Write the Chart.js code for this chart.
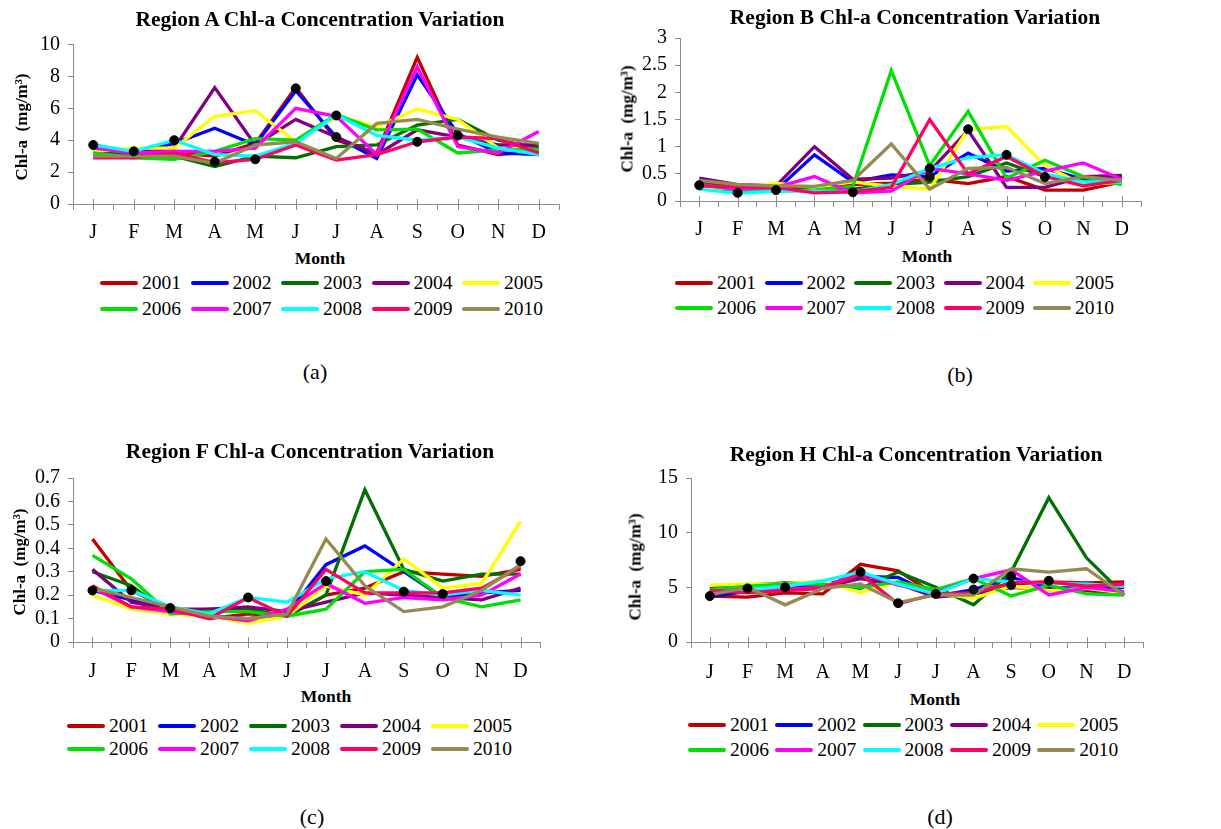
<!DOCTYPE html>
<html><head><meta charset="utf-8">
<script src="https://cdn.jsdelivr.net/npm/chart.js@4.4.0/dist/chart.umd.min.js"></script>
<style>
body{margin:0;background:#fff;width:1221px;height:829px;position:relative;overflow:hidden;font-family:'Liberation Serif','Times New Roman',serif;color:#000;}
.t{position:absolute;transform:translate(-50%,-50%);white-space:nowrap;line-height:1;}
canvas{position:absolute;}
.lg{position:absolute;display:flex;align-items:center;height:20px;font-size:19.5px;line-height:1;font-family:'Liberation Serif','Times New Roman',serif;}
.lg span.ln{display:inline-block;width:38px;height:4px;border-radius:2px;margin-right:4px;}
</style></head><body>
<script>
const months = ['J','F','M','A','M','J','J','A','S','O','N','D'];
const years = ['2001','2002','2003','2004','2005','2006','2007','2008','2009','2010'];
const colors = ['#C00000','#0000FF','#007000','#800080','#FFFF00','#00E000','#FF00FF','#00FFFF','#FF0066','#948A54'];

// Region A
const valuesA = [
  [3.0,3.1,3.2,3.0,3.8,7.3,4.0,3.2,9.2,3.7,3.1,3.3],
  [3.7,3.2,3.8,4.75,3.7,7.1,4.2,2.85,8.1,4.4,3.2,3.1],
  [3.3,3.0,3.0,2.35,3.0,2.9,3.6,3.7,4.95,5.3,4.0,3.5],
  [3.5,3.2,3.5,7.3,3.7,5.3,4.2,3.1,4.65,4.2,3.7,3.7],
  [3.3,3.5,3.5,5.5,5.85,3.9,5.5,4.85,5.95,5.3,3.5,3.4],
  [3.2,2.9,2.8,3.3,4.1,4.0,5.6,4.65,4.7,3.2,3.4,3.4],
  [3.5,3.2,3.3,3.3,3.5,6.0,5.5,3.1,8.6,3.6,3.2,4.55],
  [3.7,3.3,4.0,3.1,3.0,3.8,5.6,4.3,4.0,4.2,3.5,3.1],
  [2.9,2.9,3.2,2.6,2.8,3.7,2.75,3.1,3.9,4.2,4.1,3.2],
  [3.0,3.0,3.0,2.55,3.7,3.9,2.85,5.05,5.3,4.7,4.2,3.8]
];
const dotsA  = [3.7,3.3,4.0,2.65,2.8,7.25,5.55,null,3.9,4.3,null,null];
const dotsA2 = [null,null,null,null,null,null,4.2,null,null,null,null,null];
const ticksA = [0,2,4,6,8,10];

// Region B
const valuesB = [
  [0.28,0.27,0.26,0.20,0.30,0.33,0.40,0.32,0.45,0.20,0.20,0.35],
  [0.27,0.18,0.20,0.85,0.35,0.48,0.45,0.88,0.55,0.60,0.40,0.45],
  [0.35,0.25,0.22,0.20,0.22,0.30,0.35,0.45,0.70,0.45,0.40,0.33],
  [0.42,0.30,0.28,1.00,0.40,0.42,0.55,1.30,0.25,0.25,0.45,0.47],
  [0.25,0.22,0.33,0.25,0.35,0.27,0.22,1.32,1.37,0.65,0.30,0.35],
  [0.30,0.20,0.18,0.20,0.27,2.40,0.65,1.65,0.42,0.75,0.45,0.30],
  [0.30,0.22,0.25,0.45,0.15,0.18,0.60,0.50,0.38,0.55,0.70,0.40],
  [0.22,0.14,0.18,0.18,0.17,0.30,0.60,0.80,0.85,0.50,0.35,0.35],
  [0.28,0.26,0.25,0.15,0.17,0.25,1.50,0.50,0.82,0.45,0.28,0.38],
  [0.38,0.30,0.28,0.27,0.38,1.05,0.22,0.60,0.62,0.32,0.45,0.38]
];
const dotsB  = [0.29,0.15,0.20,null,0.16,null,0.60,1.32,0.85,0.44,null,null];
const dotsB2 = [null,null,null,null,null,null,0.45,null,null,null,null,null];
const ticksB = [0,0.5,1,1.5,2,2.5,3];

// Region F
const valuesC = [
  [0.44,0.22,0.14,0.10,0.12,0.11,0.20,0.23,0.30,0.29,0.28,0.31],
  [0.22,0.18,0.14,0.11,0.10,0.12,0.33,0.41,0.30,0.19,0.21,0.22],
  [0.30,0.24,0.12,0.14,0.14,0.11,0.20,0.65,0.31,0.26,0.29,0.29],
  [0.31,0.17,0.14,0.14,0.15,0.13,0.17,0.21,0.20,0.19,0.18,0.23],
  [0.20,0.14,0.12,0.11,0.08,0.11,0.24,0.20,0.355,0.23,0.25,0.515],
  [0.37,0.27,0.12,0.13,0.13,0.11,0.14,0.30,0.31,0.19,0.15,0.18],
  [0.23,0.15,0.13,0.11,0.09,0.14,0.25,0.165,0.19,0.18,0.20,0.29],
  [0.22,0.22,0.15,0.12,0.19,0.17,0.27,0.30,0.22,0.20,0.22,0.20],
  [0.24,0.15,0.14,0.10,0.19,0.11,0.31,0.21,0.21,0.21,0.23,0.32],
  [0.23,0.19,0.15,0.11,0.10,0.12,0.44,0.24,0.13,0.15,0.22,0.33]
];
const dotsC  = [0.22,0.22,0.145,null,0.19,null,0.26,null,0.215,0.205,null,0.345];
const dotsC2 = [null,null,null,null,null,null,null,null,null,null,null,null];
const ticksC = [0,0.1,0.2,0.3,0.4,0.5,0.6,0.7];

// Region H
const valuesD = [
  [4.2,4.1,4.5,4.4,7.1,6.5,4.3,4.5,5.3,5.5,5.4,5.5],
  [4.2,4.6,4.9,5.2,6.0,5.9,4.2,4.8,5.9,5.0,4.9,5.0],
  [4.9,5.2,5.4,5.3,4.9,6.4,5.0,3.4,6.4,13.2,7.7,4.3],
  [4.6,4.7,4.9,5.0,5.8,5.3,4.1,4.4,5.0,4.8,4.7,4.4],
  [5.2,5.3,5.3,5.6,4.5,5.5,4.5,4.0,5.1,4.7,4.9,4.5],
  [4.8,5.1,5.3,5.3,5.0,5.5,4.8,5.8,4.2,5.2,4.4,4.3],
  [4.6,4.8,4.8,5.0,6.3,5.2,4.5,5.8,6.6,4.3,5.0,4.6],
  [4.5,4.8,5.1,5.6,6.4,5.3,4.4,5.8,5.5,5.4,5.3,5.1],
  [4.7,4.5,4.7,4.9,6.2,3.5,4.4,4.5,5.4,5.5,5.1,5.3],
  [4.3,5.0,3.4,4.9,5.3,3.6,4.3,4.3,6.7,6.4,6.7,4.3]
];
const dotsD  = [4.2,4.9,5.0,null,6.4,3.55,4.4,5.8,6.0,5.6,null,null];
const dotsD2 = [null,null,null,null,null,null,null,4.8,5.2,null,null,null];
const ticksD = [0,5,10,15];

Chart.defaults.font.family = "'Liberation Serif','Times New Roman',serif";
Chart.defaults.font.size = 20;
Chart.defaults.color = '#000';
const AXIS = '#8c8c8c';

const centerTicks = {
  id: 'centerTicks',
  beforeDatasetsDraw(chart) {
    const x = chart.scales.x, b = chart.chartArea.bottom, ctx = chart.ctx;
    ctx.save();
    ctx.strokeStyle = AXIS; ctx.lineWidth = 1;
    months.forEach((m, i) => {
      const px = Math.round(x.getPixelForValue(i)) + 0.5;
      ctx.beginPath(); ctx.moveTo(px, b - 5); ctx.lineTo(px, b + 6); ctx.stroke();
    });
    ctx.restore();
  }
};

function makeChart(p) {
  const c = document.createElement('canvas');
  c.width = p.w; c.height = p.h;
  c.style.left = p.left + 'px'; c.style.top = p.top + 'px';
  c.style.width = p.w + 'px'; c.style.height = p.h + 'px';
  document.body.appendChild(c);
  const datasets = [];
  datasets.push({label:'dots', data:p.dots, showLine:false, pointRadius:4.5, pointBackgroundColor:'#000', pointBorderColor:'#000', borderColor:'#000', order:-2});
  datasets.push({label:'dots2', data:p.dots2, showLine:false, pointRadius:4.5, pointBackgroundColor:'#111', pointBorderColor:'#111', borderColor:'#111', order:-1});
  p.values.forEach((v, i) => {
    datasets.push({label:years[i], data:v, borderColor:colors[i], backgroundColor:colors[i], borderWidth:3.3, pointRadius:0, tension:0, fill:false, order:10 - i});
  });
  new Chart(c, {
    type: 'line',
    data: {labels: months, datasets},
    options: {
      responsive: false, animation: false, devicePixelRatio: 1,
      layout: {padding: {top: p.padTop, right: p.padRight, left: 0, bottom: 0}},
      plugins: {legend: {display: false}, tooltip: {enabled: false}},
      scales: {
        x: {
          type: 'category', offset: true,
          grid: {display: true, drawOnChartArea: false, offset: true, tickLength: 6, color: AXIS},
          border: {display: true, color: AXIS, width: 1},
          ticks: {padding: p.xPad, maxRotation: 0, autoSkip: false, font: {size: 20}},
          afterFit: (s) => { s.height = p.xHeight; }
        },
        y: {
          min: 0, max: p.ticks[p.ticks.length - 1],
          grid: {display: true, drawOnChartArea: false, tickLength: 5, color: AXIS},
          border: {display: true, color: AXIS, width: 1},
          ticks: {padding: 8, autoSkip: false, font: {size: 20, lineHeight: 1}, callback: (v) => String(v)},
          afterBuildTicks: (s) => { s.ticks = p.ticks.map(v => ({value: v})); },
          afterFit: (s) => { s.width = p.yWidth; }
        }
      }
    },
    plugins: [centerTicks]
  });
}

makeChart({left:0, top:25, w:600, h:220, padTop:19.5, padRight:41, yWidth:73, xHeight:41, xPad:11, values:valuesA, dots:dotsA, dots2:dotsA2, ticks:ticksA});
makeChart({left:600, top:20, w:600, h:225, padTop:16.7, padRight:59, yWidth:80, xHeight:44, xPad:11, values:valuesB, dots:dotsB, dots2:dotsB2, ticks:ticksB});
makeChart({left:0, top:460, w:600, h:225, padTop:18, padRight:60, yWidth:73, xHeight:43, xPad:12, values:valuesC, dots:dotsC, dots2:dotsC2, ticks:ticksC});
makeChart({left:600, top:460, w:600, h:225, padTop:18, padRight:57, yWidth:91, xHeight:43, xPad:13, values:valuesD, dots:dotsD, dots2:dotsD2, ticks:ticksD});

function text(str, x, y, style) {
  const d = document.createElement('div');
  d.className = 't';
  d.textContent = str;
  d.style.left = x + 'px'; d.style.top = y + 'px';
  Object.assign(d.style, style);
  document.body.appendChild(d);
}
const panelTitles = ['Region A Chl-a Concentration Variation','Region B Chl-a Concentration Variation','Region F Chl-a Concentration Variation','Region H Chl-a Concentration Variation'];
const titlePos = [[320,20],[915,18],[310,452],[916,455]];
const yTitlePos = [[21,127],[627,119],[19,562],[635,567]];
const monthPos = [[320,259],[927,257],[326,697],[935,700]];
const subLabels = ['(a)','(b)','(c)','(d)'];
const subPos = [[315,372],[960,375],[312,817],[940,817]];
const legendPos = [[100,283,309,90.5],[675,283,308,89.5],[67,726,749,91],[688,725,750,87.3]];

for (let k = 0; k < 4; k++) {
  text(panelTitles[k], titlePos[k][0], titlePos[k][1], {fontWeight:'bold', fontSize:'21.5px'});
  text('Chl-a\u00a0 (mg/m\u00b3)', yTitlePos[k][0], yTitlePos[k][1], {fontWeight:'bold', fontSize:'17px', transform:'translate(-50%,-50%) rotate(-90deg)'});
  text('Month', monthPos[k][0], monthPos[k][1], {fontWeight:'bold', fontSize:'17.5px'});
  text(subLabels[k], subPos[k][0], subPos[k][1], {fontSize:'22px'});
  const [lx, r1, r2, pitch] = legendPos[k];
  years.forEach((yr, i) => {
    const d = document.createElement('div');
    d.className = 'lg';
    const row = Math.floor(i / 5), col = i % 5;
    d.style.left = (lx + col * pitch) + 'px';
    d.style.top = ((row ? r2 : r1) - 10) + 'px';
    const ln = document.createElement('span');
    ln.className = 'ln'; ln.style.background = colors[i];
    const tx = document.createElement('span');
    tx.textContent = yr;
    d.appendChild(ln); d.appendChild(tx);
    document.body.appendChild(d);
  });
}
</script>
</body></html>
